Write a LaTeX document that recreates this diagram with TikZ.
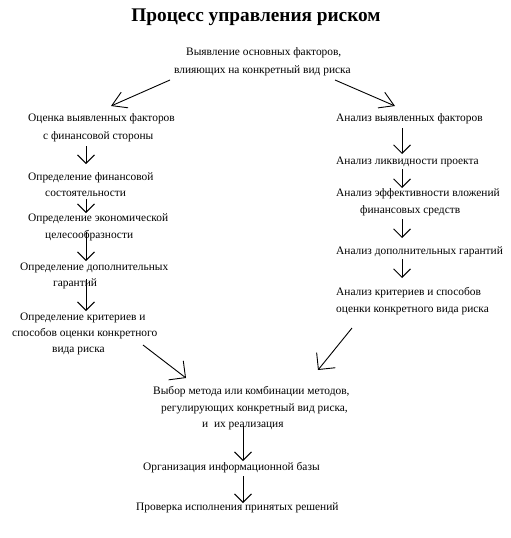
\documentclass[tikz,border=0pt]{standalone}
\usepackage{fontspec}
\setmainfont{Liberation Serif}
\usetikzlibrary{arrows.meta}
\begin{document}
\begin{tikzpicture}[x=1pt,y=-1pt,
  txt/.style={inner sep=0pt,anchor=base west,font=\fontsize{11.4}{13}\selectfont},
  arrV/.style={line width=0.9pt,-{Straight Barb[length=8.5pt,width=17pt,line width=0.9pt]}},
  arrT/.style={line width=0.9pt,-{Straight Barb[length=14pt,width=17pt,line width=0.9pt]}},
  arrD/.style={line width=0.9pt,-{Straight Barb[length=12pt,width=24pt,line width=0.9pt]}}]
\useasboundingbox (0,0) rectangle (511,538);
\node[inner sep=0pt,anchor=base,font=\fontsize{19.3}{22}\bfseries] (title) at (256,21) {Процесс управления риском};
% top
\node[txt] (t1) at (186,55) {Выявление основных факторов,};
\node[txt] (t2) at (174,73) {влияющих на конкретный вид риска};
% left column
\node[txt] (l1a) at (28,121) {Оценка выявленных факторов};
\node[txt] (l1b) at (43,139) {с финансовой стороны};
\node[txt] (l2a) at (28,180) {Определение финансовой};
\node[txt] (l2b) at (45,196) {состоятельности};
\node[txt] (l3a) at (28,221) {Определение экономической};
\node[txt] (l3b) at (45,238) {целесообразности};
\node[txt] (l4a) at (20,270) {Определение дополнительных};
\node[txt] (l4b) at (53,286) {гарантий};
\node[txt] (l5a) at (20,320) {Определение критериев и};
\node[txt] (l5b) at (12,336) {способов оценки конкретного};
\node[txt] (l5c) at (52,352) {вида риска};
% right column
\node[txt] (r1) at (336,121) {Анализ выявленных факторов};
\node[txt] (r2) at (336,164) {Анализ ликвидности проекта};
\node[txt] (r3a) at (336,196) {Анализ эффективности вложений};
\node[txt] (r3b) at (360,213) {финансовых средств};
\node[txt] (r4) at (336,254) {Анализ дополнительных гарантий};
\node[txt] (r5a) at (336,295) {Анализ критериев и способов};
\node[txt] (r5b) at (336,312) {оценки конкретного вида риска};
% bottom
\node[txt] (b1a) at (153,394) {Выбор метода или комбинации методов,};
\node[txt] (b1b) at (161,411) {регулирующих конкретный вид риска,};
\node[txt] (b1c) at (202,427) {и \ их реализация};
\node[txt] (b2) at (143,470) {Организация информационной базы};
\node[txt] (b3) at (136,510) {Проверка исполнения принятых решений};
% connector end points
\coordinate (dl0) at (170,80); \coordinate (dl1) at (111,106);
\coordinate (dr0) at (335,80); \coordinate (dr1) at (395,106);
\coordinate (la0) at (86,146); \coordinate (la1) at (86,164);
\coordinate (lb0) at (86,199); \coordinate (lb1) at (86,213);
\coordinate (lc0) at (86,232); \coordinate (lc1) at (86,261);
\coordinate (ld0) at (86,279); \coordinate (ld1) at (86,311);
\coordinate (ra0) at (402,128); \coordinate (ra1) at (402,154);
\coordinate (rb0) at (402,169); \coordinate (rb1) at (402,188);
\coordinate (rc0) at (402,219); \coordinate (rc1) at (402,238);
\coordinate (rd0) at (402,259); \coordinate (rd1) at (402,278);
\coordinate (ml0) at (143,345); \coordinate (ml1) at (186,378);
\coordinate (mr0) at (352,328); \coordinate (mr1) at (318,370);
\coordinate (ba0) at (243,426); \coordinate (ba1) at (243,461);
\coordinate (bb0) at (243,476); \coordinate (bb1) at (243,503);
\foreach \a/\b in {la0/la1,lb0/lb1,lc0/lc1,ld0/ld1,ra0/ra1,rb0/rb1,rc0/rc1,rd0/rd1,ba0/ba1,bb0/bb1}
  \draw[arrV] (\a) -- (\b);
\foreach \a/\b in {dl0/dl1,dr0/dr1}
  \draw[arrT] (\a) -- (\b);
\foreach \a/\b in {ml0/ml1,mr0/mr1}
  \draw[arrD] (\a) -- (\b);
\end{tikzpicture}
\end{document}
